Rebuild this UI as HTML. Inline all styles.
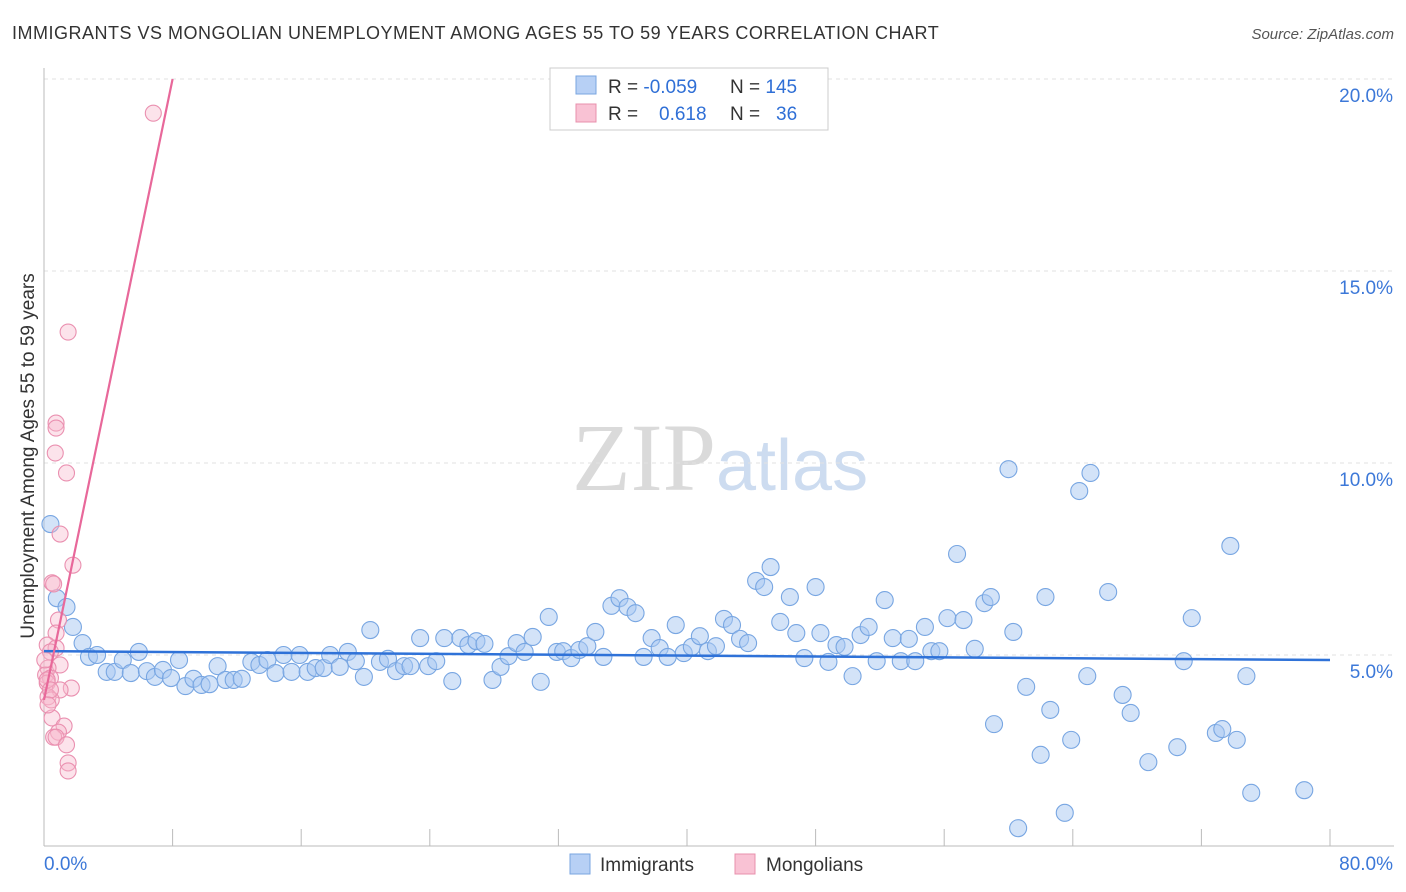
<!DOCTYPE html>
<html><head><meta charset="utf-8"><style>
body{margin:0;background:#fff;font-family:"Liberation Sans",sans-serif;}
svg{display:block}
</style></head><body>
<svg id="chart" width="1406" height="892">
<text x="12" y="39" font-size="18" fill="#333" letter-spacing="0.5">IMMIGRANTS VS MONGOLIAN UNEMPLOYMENT AMONG AGES 55 TO 59 YEARS CORRELATION CHART</text>
<text x="1394" y="39" font-size="15" fill="#555" font-style="italic" text-anchor="end">Source: ZipAtlas.com</text>
<text x="716" y="490" font-size="96" fill="#dadada" text-anchor="end" font-family="Liberation Serif, serif">ZIP</text>
<text x="716" y="490" font-size="72" fill="#cddcf0">atlas</text>
<g id="grid"></g>
<g id="axes"></g>
<g id="marks"></g>
<text transform="translate(34,456) rotate(-90)" font-size="19" fill="#333" text-anchor="middle">Unemployment Among Ages 55 to 59 years</text>
<g>
<rect x="550" y="68" width="278" height="62" fill="#fff" stroke="#ccc"/>
<rect x="576" y="76" width="20" height="18" fill="#b7d0f5" stroke="#7aa6e0"/>
<rect x="576" y="104" width="20" height="18" fill="#f9c2d4" stroke="#e890ac"/>
<text x="608" y="93" font-size="19" fill="#333">R = <tspan fill="#2f6fd6">-0.059</tspan></text>
<text x="730" y="93" font-size="19" fill="#333">N = <tspan fill="#2f6fd6">145</tspan></text>
<text x="608" y="120" font-size="19" fill="#333">R = <tspan fill="#2f6fd6" x="659">0.618</tspan></text>
<text x="730" y="120" font-size="19" fill="#333">N = <tspan fill="#2f6fd6" x="776">36</tspan></text>
</g>
<g>
<rect x="570" y="854" width="20" height="20" fill="#b7d0f5" stroke="#7aa6e0"/>
<text x="600" y="871" font-size="19" fill="#333">Immigrants</text>
<rect x="735" y="854" width="20" height="20" fill="#f9c2d4" stroke="#e890ac"/>
<text x="766" y="871" font-size="19" fill="#333">Mongolians</text>
</g>
</svg>
<script>
const xTicks=[0,8,16,24,32,40,48,56,64,72,80];
const yTicks=[5,10,15,20];
const yTickLabels=["5.0%","10.0%","15.0%","20.0%"];
const blueX=[0.4,0.8,1.4,1.8,2.4,2.8,3.3,3.9,4.4,4.9,5.4,5.9,6.4,6.9,7.4,7.9,8.4,8.8,9.3,9.8,10.3,10.8,11.3,11.8,12.3,12.9,13.4,13.9,14.4,14.9,15.4,15.9,16.4,16.9,17.4,17.8,18.4,18.9,19.4,19.9,20.3,20.9,21.4,21.9,22.4,22.8,23.4,23.9,24.4,24.9,25.4,25.9,26.4,26.9,27.4,27.9,28.4,28.9,29.4,29.9,30.4,30.9,31.4,31.9,32.3,32.8,33.3,33.8,34.3,34.8,35.3,35.8,36.3,36.8,37.3,37.8,38.3,38.8,39.3,39.8,40.3,40.8,41.3,41.8,42.3,42.8,43.3,43.8,44.3,44.8,45.2,45.8,46.4,46.8,47.3,48.0,48.3,48.8,49.3,49.8,50.3,50.8,51.3,51.8,52.3,52.8,53.3,53.8,54.2,54.8,55.2,55.7,56.2,56.8,57.2,57.9,58.5,58.9,59.1,60.0,60.3,60.6,61.1,62.0,62.3,62.6,63.5,63.9,64.4,64.9,65.1,66.2,67.1,67.6,68.7,70.5,70.9,71.4,72.9,73.3,73.8,74.2,74.8,75.1,78.4];
const blueY=[8.41,6.48,6.25,5.73,5.31,4.95,5.0,4.56,4.56,4.87,4.53,5.08,4.58,4.43,4.61,4.40,4.87,4.19,4.38,4.22,4.24,4.71,4.35,4.35,4.38,4.82,4.74,4.87,4.53,5.0,4.56,5.0,4.56,4.66,4.66,5.0,4.69,5.08,4.84,4.43,5.65,4.82,4.90,4.58,4.71,4.71,5.44,4.71,4.84,5.44,4.32,5.44,5.26,5.36,5.29,4.35,4.69,4.97,5.31,5.08,5.47,4.30,5.99,5.08,5.10,4.92,5.13,5.23,5.60,4.95,6.28,6.48,6.25,6.09,4.95,5.44,5.18,4.95,5.78,5.05,5.21,5.49,5.10,5.23,5.94,5.78,5.42,5.31,6.93,6.77,7.29,5.86,6.51,5.57,4.92,6.77,5.57,4.82,5.26,5.21,4.45,5.52,5.73,4.84,6.43,5.44,4.84,5.42,4.84,5.73,5.10,5.10,5.96,7.63,5.91,5.16,6.35,6.51,3.20,9.84,5.60,0.49,4.17,2.40,6.51,3.57,0.89,2.79,9.27,4.45,9.74,6.64,3.96,3.49,2.21,2.60,4.84,5.96,2.97,3.07,7.84,2.79,4.45,1.41,1.48];
const pinkX=[6.8,1.5,0.75,0.75,0.7,1.4,1.0,1.8,0.5,0.6,0.9,0.75,0.2,0.75,0.4,1.0,0.25,0.1,0.4,0.2,1.7,1.0,0.25,0.45,0.5,1.25,0.9,0.6,0.75,1.4,1.5,1.5,0.2,0.4,0.05,0.25];
const pinkY=[19.11,13.41,11.04,10.91,10.26,9.74,8.15,7.34,6.88,6.85,5.91,5.57,5.26,5.18,5.08,4.74,4.66,4.48,4.40,4.27,4.14,4.09,3.91,3.83,3.36,3.15,2.99,2.86,2.86,2.66,2.19,1.98,4.35,4.09,4.87,3.70];
const blueTrend=[5.10,4.87];      // y at x=0 and x=80
const pinkTrend=[3.83,20];        // y at x=0 and x=8
const NS="http://www.w3.org/2000/svg";
const X=v=>44+v*16.075, Y=v=>847-v*38.4;
function mk(tag,attrs,parent){const e=document.createElementNS(NS,tag);for(const k in attrs)e.setAttribute(k,attrs[k]);parent.appendChild(e);return e;}
const grid=document.getElementById('grid'),axes=document.getElementById('axes'),marks=document.getElementById('marks');
yTicks.forEach((t,i)=>{
 const l=mk('line',{x1:44,x2:1394,y1:Y(t),y2:Y(t),stroke:'#e2e2e2','stroke-dasharray':'4,4'},grid);
 
 
 const tx=mk('text',{x:1393,y:Y(t)+23,'font-size':19,fill:'#3c78d8','text-anchor':'end'},axes);
 tx.textContent=yTickLabels[i];
 
 
});
const ax=mk('line',{x1:44,x2:1394,y1:846,y2:846,stroke:'#bbb'},axes);


const ay=mk('line',{x1:44,x2:44,y1:68,y2:846,stroke:'#bbb'},axes);


xTicks.forEach(t=>{
 const l=mk('line',{x1:X(t),x2:X(t),y1:829,y2:846,stroke:'#bbb'},axes);
 
 
});
const xl0=mk('text',{x:44,y:870,'font-size':19,fill:'#3c78d8'},axes);xl0.textContent='0.0%';


const xl1=mk('text',{x:1393,y:870,'font-size':19,fill:'#3c78d8','text-anchor':'end'},axes);xl1.textContent='80.0%';


blueX.forEach((v,i)=>{
 const c=mk('circle',{cx:X(v),cy:Y(blueY[i]),r:8.5,fill:'rgba(168,200,242,0.5)',stroke:'#78a6e2','stroke-width':1.1},marks);
 
 
});
pinkX.forEach((v,i)=>{
 const c=mk('circle',{cx:X(v),cy:Y(pinkY[i]),r:8,fill:'rgba(248,186,206,0.4)',stroke:'#ea90b0','stroke-width':1.1},marks);
 
 
});
const bt=mk('line',{x1:X(0),y1:Y(blueTrend[0]),x2:X(80),y2:Y(blueTrend[1]),stroke:'#2f72d8','stroke-width':2.5},marks);


const pt=mk('line',{x1:X(0),y1:Y(pinkTrend[0]),x2:X(8),y2:Y(pinkTrend[1]),stroke:'#e8689a','stroke-width':2.2},marks);


</script>
</body></html>
